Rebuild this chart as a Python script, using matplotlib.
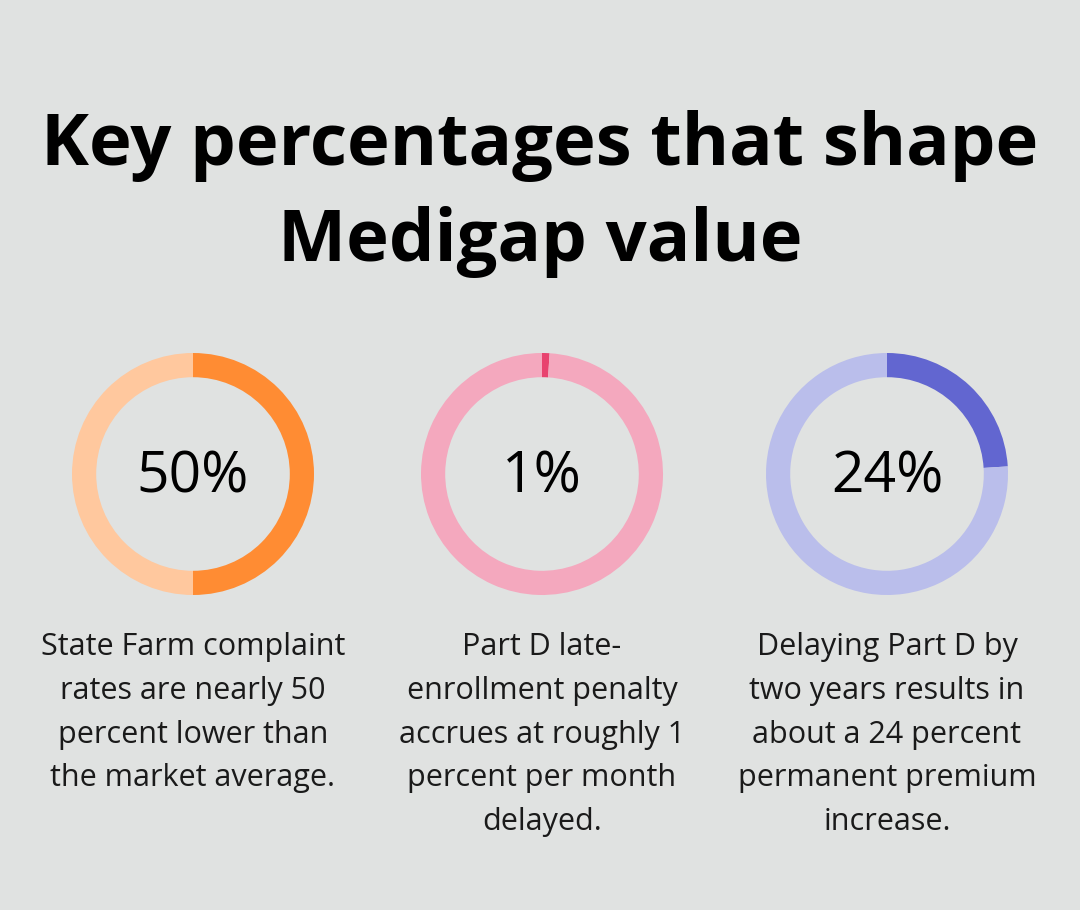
import matplotlib
matplotlib.use("Agg")
import matplotlib.pyplot as plt

plt.rcParams["font.family"] = ["Open Sans", "DejaVu Sans"]

title = "Key percentages that shape\nMedigap value"
percents = [50, 1, 24]
labels = ["50%", "1%", "24%"]
captions = [
    "State Farm complaint\nrates are nearly 50\npercent lower than\nthe market average.",
    "Part D late-\nenrollment penalty\naccrues at roughly 1\npercent per month\ndelayed.",
    "Delaying Part D by\ntwo years results in\nabout a 24 percent\npermanent premium\nincrease.",
]
dark_colors = ["#FF8C33", "#E8436F", "#6266D0"]
light_colors = ["#FFC89E", "#F4A8BE", "#BABEEB"]

W, H = 1080, 910
bg = "#E0E2E1"
fig = plt.figure(figsize=(W / 100, H / 100), dpi=100, facecolor=bg)

fig.text(540 / W, 1 - 194 / H, title, ha="center", va="center",
         fontsize=52, fontweight="bold", color="black", linespacing=1.42)

centers_x = [193, 542, 887]
cy = 474
r = 121
for i, cx in enumerate(centers_x):
    ax = fig.add_axes([(cx - r) / W, (H - cy - r) / H, 2 * r / W, 2 * r / H])
    ax.pie([percents[i], 100 - percents[i]], colors=[dark_colors[i], light_colors[i]],
           startangle=90, counterclock=False,
           wedgeprops=dict(width=0.2, linewidth=0))
    ax.set_xlim(-1, 1)
    ax.set_ylim(-1, 1)
    ax.set_aspect("equal")
    ax.set_facecolor("none")
    ax.text(0, -0.03, labels[i], ha="center", va="center", fontsize=41,
            color="black")
    fig.text(cx / W, 1 - 632 / H, captions[i], ha="center", va="top",
             fontsize=22, color="#1a1a1a", linespacing=1.6)

fig.savefig("out.png", dpi=100, facecolor=bg)
